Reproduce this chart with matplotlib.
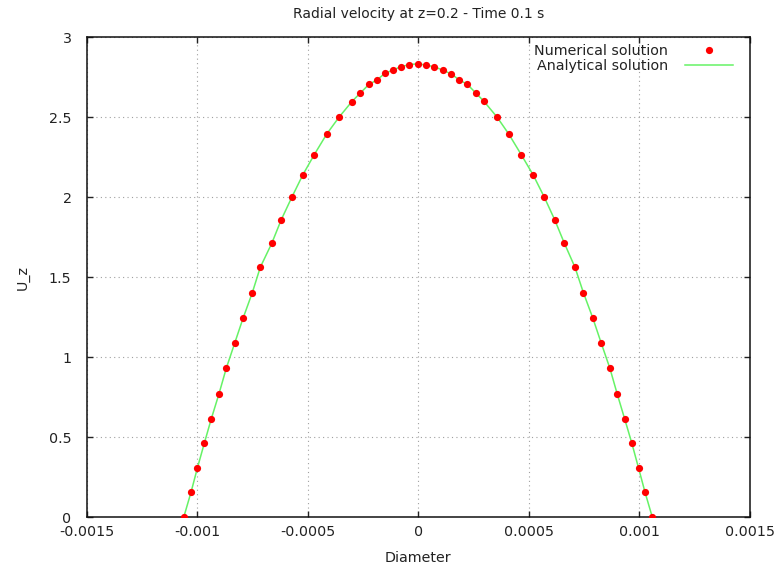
import numpy as np
import matplotlib
matplotlib.use('Agg')
import matplotlib.pyplot as plt

# Diameter positions (m) and radial velocity values
diameter = [-0.0010615, -0.0010285, -0.0010000, -0.000968, -0.000937, -0.000902,
            -0.000869, -0.000831, -0.000793, -0.000751, -0.000715, -0.000663,
            -0.000620, -0.000571, -0.000523, -0.000471, -0.000414, -0.000359,
            -0.000301, -0.000262, -0.000223, -0.000187, -0.000151, -0.000116,
            -0.0000796, -0.0000407, 0.0,
            0.0000367, 0.0000724, 0.000112, 0.000149, 0.000186, 0.000222,
            0.000260, 0.000297, 0.000357, 0.000409, 0.000466, 0.000520,
            0.000569, 0.000617, 0.000661, 0.000709, 0.000747, 0.000790,
            0.000828, 0.000867, 0.000900, 0.000934, 0.000966, 0.000997,
            0.001026, 0.001059]
u_numerical = [0.0, 0.156, 0.306, 0.464, 0.614, 0.771,
               0.931, 1.0875, 1.244, 1.404, 1.5625, 1.7125,
               1.86, 2.004, 2.139, 2.266, 2.396, 2.5,
               2.5975, 2.652, 2.706, 2.733, 2.775, 2.794,
               2.816, 2.829, 2.835,
               2.825, 2.816, 2.794, 2.771, 2.733, 2.706,
               2.652, 2.6, 2.5, 2.396, 2.266, 2.139,
               2.004, 1.86, 1.7125, 1.5625, 1.404, 1.244,
               1.0875, 0.931, 0.771, 0.614, 0.464, 0.306,
               0.156, 0.0]
u_analytical = list(u_numerical)

x_ticks = [-0.0015, -0.001, -0.0005, 0, 0.0005, 0.001, 0.0015]
x_tick_labels = ['-0.0015', '-0.001', '-0.0005', '0', '0.0005', '0.001', '0.0015']
y_ticks = [0, 0.5, 1, 1.5, 2, 2.5, 3]
y_tick_labels = ['0', '0.5', '1', '1.5', '2', '2.5', '3']

plt.rcParams['font.family'] = ['DejaVu Sans']
plt.rcParams['font.size'] = 10.3

fig = plt.figure(figsize=(7.77, 5.64), dpi=100)
ax = fig.add_axes([0.1117, 0.0828, 0.8533, 0.8511])

ax.plot(diameter, u_numerical, 'o', color='#ff0000', markersize=5.2,
        markeredgewidth=0, label='Numerical solution', zorder=3)
ax.plot(diameter, u_analytical, '-', color='#66f266', linewidth=1.1,
        label='Analytical solution', zorder=2)

ax.set_xlim(-0.0015, 0.0015)
ax.set_ylim(0, 3)
ax.set_xticks(x_ticks)
ax.set_xticklabels(x_tick_labels)
ax.set_yticks(y_ticks)
ax.set_yticklabels(y_tick_labels)

ax.grid(True, linestyle=(0, (1, 3)), color='#a0a0a0', linewidth=0.8)
ax.tick_params(direction='in', length=4, width=1, top=True, right=True,
               colors='#222222', labelcolor='#222222')
ax.tick_params(axis='x', pad=5.5)
ax.tick_params(axis='y', pad=11)
for s in ax.spines.values():
    s.set_linewidth(1.1)
    s.set_color('#111111')

ax.set_title('Radial velocity at z=0.2 - Time 0.1 s', fontsize=10, color='#222222', pad=14)
ax.set_xlabel('Diameter', color='#222222', labelpad=9)
ax.set_ylabel('U_z', color='#222222', labelpad=14)

leg = ax.legend(loc='upper right', frameon=False, markerfirst=False,
                handlelength=3.3, borderaxespad=0.1, labelspacing=0.05,
                handletextpad=1.2, bbox_to_anchor=(0.985, 1.0))
for t in leg.get_texts():
    t.set_color('#222222')

fig.savefig('out.png', dpi=100)
